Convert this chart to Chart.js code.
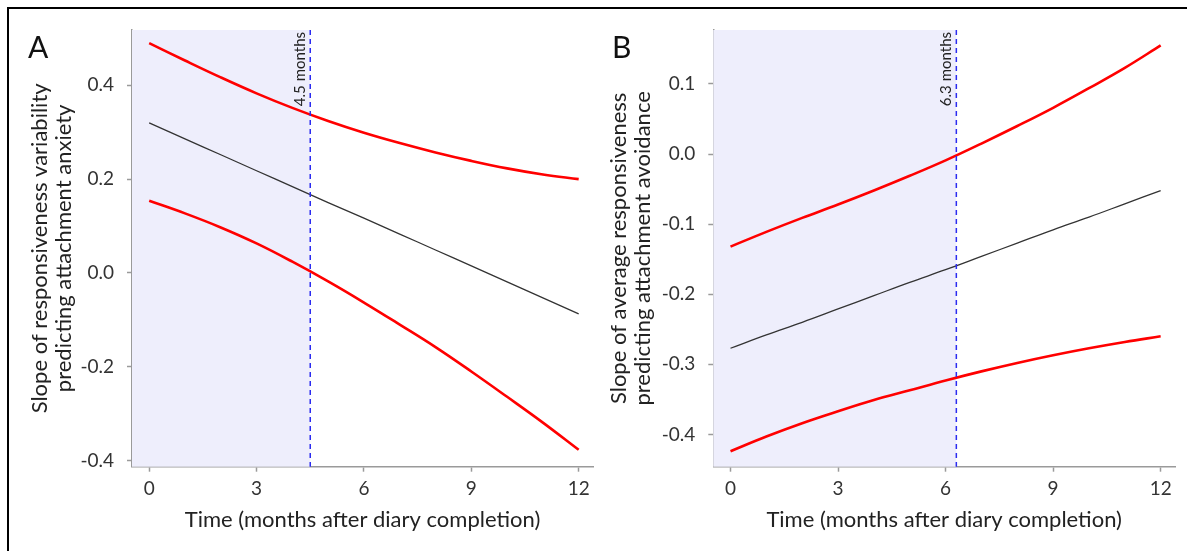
<!DOCTYPE html>
<html>
<head>
<meta charset="utf-8">
<script src="https://cdn.jsdelivr.net/npm/chart.js@4.4.1/dist/chart.umd.min.js"></script>
<style>
  html, body { margin: 0; padding: 0; background: #fff; }
  #page { position: relative; width: 1187px; height: 551px; overflow: hidden; }
  #frame { position: absolute; left: 7px; top: 7px; width: 1200px; height: 600px;
           border-top: 2.5px solid #000; border-left: 2.5px solid #000; }
  .panel { position: absolute; font-family: Lato, "Open Sans", sans-serif; font-size: 30px; color: #111; }
  canvas { position: absolute; top: 0; }
</style>
</head>
<body>
<div id="page">
  <div id="frame"></div>
  <canvas id="chartA" width="600" height="551" style="left:0px"></canvas>
  <canvas id="chartB" width="587" height="551" style="left:600px"></canvas>
  <div class="panel" style="left:28px;top:28px">A</div>
  <div class="panel" style="left:612px;top:28px">B</div>
</div>
<script>
// months after diary completion
var months = [0, 1, 2, 3, 4, 5, 6, 7, 8, 9, 10, 11, 12];
var xTicks = [0, 3, 6, 9, 12];

// panel A: responsiveness variability -> attachment anxiety
var midA   = [0.320, 0.286, 0.252, 0.218, 0.184, 0.150, 0.117, 0.083, 0.049, 0.015, -0.019, -0.053, -0.087];
var upperA = [0.490, 0.453, 0.417, 0.383, 0.352, 0.324, 0.299, 0.277, 0.257, 0.239, 0.223, 0.210, 0.200];
var lowerA = [0.154, 0.127, 0.097, 0.063, 0.024, -0.018, -0.063, -0.110, -0.158, -0.210, -0.264, -0.319, -0.377];
var yTicksA = [-0.4, -0.2, 0.0, 0.2, 0.4];
var cutA = 4.5;

// panel B: average responsiveness -> attachment avoidance
var midB   = [-0.277, -0.258, -0.240, -0.221, -0.202, -0.183, -0.165, -0.146, -0.127, -0.108, -0.090, -0.071, -0.052];
var upperB = [-0.132, -0.111, -0.091, -0.072, -0.052, -0.031, -0.009, 0.015, 0.040, 0.066, 0.094, 0.123, 0.155];
var lowerB = [-0.424, -0.403, -0.384, -0.367, -0.351, -0.337, -0.323, -0.310, -0.298, -0.287, -0.277, -0.268, -0.260];
var yTicksB = [-0.4, -0.3, -0.2, -0.1, 0.0, 0.1];
var cutB = 6.3;

var FONT = 'Lato, "Open Sans", sans-serif';

function pts(vals) {
    return months.map(function (m, i) { return { x: m, y: vals[i] }; });
}

// shaded region + dashed cut-off line with its label
var regionPlugin = {
    id: 'region',
    beforeDatasetsDraw: function (chart, args, opts) {
        var ctx = chart.ctx, a = chart.chartArea;
        var xp = chart.scales.x.getPixelForValue(opts.cut);
        ctx.save();
        ctx.fillStyle = 'rgb(238,238,252)';
        ctx.fillRect(a.left, a.top, xp - a.left, a.bottom - a.top);
        ctx.restore();
    },
    afterDatasetsDraw: function (chart, args, opts) {
        var ctx = chart.ctx, a = chart.chartArea;
        var xp = chart.scales.x.getPixelForValue(opts.cut);
        ctx.save();
        ctx.strokeStyle = '#2b2bf0';
        ctx.lineWidth = 1.5;
        ctx.setLineDash([5, 4]);
        ctx.beginPath();
        ctx.moveTo(xp, a.top);
        ctx.lineTo(xp, a.bottom);
        ctx.stroke();
        ctx.setLineDash([]);
        ctx.translate(xp - 3, a.top + 2);
        ctx.rotate(-Math.PI / 2);
        ctx.fillStyle = '#222';
        ctx.font = '15px ' + FONT;
        ctx.textAlign = 'right';
        ctx.textBaseline = 'bottom';
        ctx.fillText(opts.label, 0, 0);
        ctx.restore();
    }
};

function makeChart(id, cfg) {
    return new Chart(id, {
        type: 'line',
        data: {
            datasets: [
                { data: pts(cfg.upper), borderColor: '#ff0000', borderWidth: 2.6 },
                { data: pts(cfg.lower), borderColor: '#ff0000', borderWidth: 2.6 },
                { data: pts(cfg.mid), borderColor: '#333333', borderWidth: 1.3 }
            ]
        },
        options: {
            responsive: false,
            animation: false,
            parsing: false,
            elements: {
                point: { radius: 0 },
                line: { tension: 0.4, fill: false }
            },
            layout: { padding: { top: 30, right: cfg.right, left: 0, bottom: 0 } },
            plugins: {
                legend: { display: false },
                tooltip: { enabled: false },
                region: { cut: cfg.cut, label: cfg.cut + ' months' }
            },
            scales: {
                x: {
                    type: 'linear',
                    min: -0.48,
                    max: 12.4,
                    afterBuildTicks: function (s) { s.ticks = xTicks.map(function (v) { return { value: v }; }); },
                    afterFit: function (s) { s.height = 84.3; },
                    border: { color: '#9a9a9a', width: 1.5 },
                    grid: { drawOnChartArea: false, tickLength: 5, tickColor: '#9a9a9a', tickWidth: 1.5 },
                    ticks: { color: '#333', padding: 6, font: { family: FONT, size: 19 } },
                    title: {
                        display: true,
                        text: 'Time (months after diary completion)',
                        color: '#222',
                        font: { family: FONT, size: 22 },
                        padding: { top: 0, bottom: 18 }
                    }
                },
                y: {
                    type: 'linear',
                    min: cfg.ymin,
                    max: cfg.ymax,
                    afterBuildTicks: function (s) { s.ticks = cfg.yticks.map(function (v) { return { value: v }; }); },
                    afterFit: function (s) { s.width = cfg.yw; },
                    border: { color: '#9a9a9a', width: 1.5 },
                    grid: { drawOnChartArea: false, tickLength: 5, tickColor: '#9a9a9a', tickWidth: 1.5 },
                    ticks: {
                        color: '#333',
                        padding: 13,
                        font: { family: FONT, size: 19 },
                        callback: function (v) { return v.toFixed(1); }
                    },
                    title: {
                        display: true,
                        text: cfg.ytitle,
                        color: '#222',
                        font: { family: FONT, size: 22, lineHeight: 1.1 },
                        padding: { top: cfg.titlePad, bottom: 0 }
                    }
                }
            }
        },
        plugins: [regionPlugin]
    });
}

makeChart('chartA', {
    upper: upperA, lower: lowerA, mid: midA, cut: cutA,
    yticks: yTicksA, ymin: -0.413, ymax: 0.518,
    yw: 132, right: 7, titlePad: 28,
    ytitle: ['Slope of responsiveness variability', 'predicting attachment anxiety']
});

makeChart('chartB', {
    upper: upperB, lower: lowerB, mid: midB, cut: cutB,
    yticks: yTicksB, ymin: -0.446, ymax: 0.177,
    yw: 113.3, right: 12, titlePad: 7,
    ytitle: ['Slope of average responsiveness', 'predicting attachment avoidance']
});
</script>
</body>
</html>
